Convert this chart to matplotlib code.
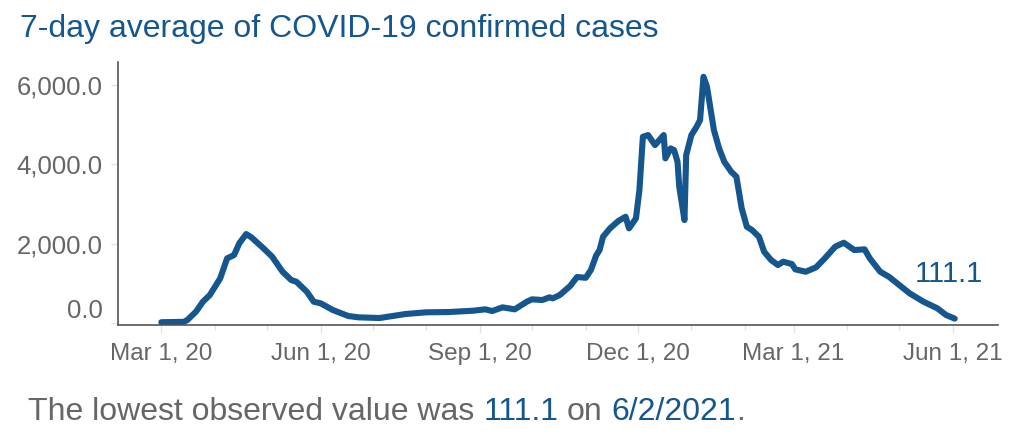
import matplotlib
matplotlib.use("Agg")
import matplotlib.pyplot as plt
import matplotlib.dates as mdates
import matplotlib.transforms as mtransforms
import pandas as pd

plt.rcParams["font.family"] = ["Liberation Sans", "DejaVu Sans"]

# 7-day average
dates = [
    "2020-03-01", "2020-03-14", "2020-03-16", "2020-03-21", "2020-03-25", "2020-03-29",
    "2020-04-04", "2020-04-08", "2020-04-12", "2020-04-15", "2020-04-19", "2020-04-22",
    "2020-04-29", "2020-05-04", "2020-05-10", "2020-05-15", "2020-05-18", "2020-05-24",
    "2020-05-28", "2020-06-01", "2020-06-08", "2020-06-12", "2020-06-17", "2020-06-23",
    "2020-07-05", "2020-07-20", "2020-08-01", "2020-08-14", "2020-08-28", "2020-09-04",
    "2020-09-08", "2020-09-14", "2020-09-21", "2020-09-28", "2020-10-01", "2020-10-07",
    "2020-10-11", "2020-10-13", "2020-10-17", "2020-10-23", "2020-10-27", "2020-11-01",
    "2020-11-04", "2020-11-07", "2020-11-09", "2020-11-11", "2020-11-15", "2020-11-20",
    "2020-11-24", "2020-11-26", "2020-11-30", "2020-12-02", "2020-12-04", "2020-12-07",
    "2020-12-11", "2020-12-16", "2020-12-17", "2020-12-20", "2020-12-22", "2020-12-24",
    "2020-12-25", "2020-12-28", "2020-12-29", "2021-01-01", "2021-01-04", "2021-01-06",
    "2021-01-08", "2021-01-10", "2021-01-14", "2021-01-17", "2021-01-20", "2021-01-24",
    "2021-01-27", "2021-01-30", "2021-02-02", "2021-02-05", "2021-02-09", "2021-02-12",
    "2021-02-16", "2021-02-20", "2021-02-23", "2021-02-28", "2021-03-02", "2021-03-08",
    "2021-03-14", "2021-03-19", "2021-03-25", "2021-03-30", "2021-04-05", "2021-04-11",
    "2021-04-14", "2021-04-20", "2021-04-25", "2021-05-01", "2021-05-07", "2021-05-15",
    "2021-05-23", "2021-05-28", "2021-06-02",
]
cases = [
    20, 30, 75, 285, 537, 705,
    1126, 1630, 1714, 2008, 2243, 2160,
    1882, 1671, 1293, 1084, 1040, 789,
    537, 496, 328, 260, 176, 143,
    126, 227, 270, 277, 310, 345,
    302, 395, 345, 537, 597, 580,
    647, 622, 705, 932, 1160, 1140,
    1336, 1700, 1840, 2175, 2386, 2578,
    2679, 2386, 2638, 3352, 4695, 4738,
    4486, 4738, 4150, 4402, 4360, 4065,
    3435, 2596, 4234, 4738, 4947, 5116,
    6207, 5955, 4864, 4402, 4065, 3813,
    3687, 2900, 2427, 2344, 2175, 1797,
    1588, 1462, 1545, 1487, 1353, 1293,
    1404, 1630, 1923, 2024, 1840, 1857,
    1630, 1293, 1167, 958, 748, 537,
    370, 202, 111.1,
]
y_ticks = [0, 2000, 4000, 6000]

BLUE = "#15568f"
GRAY = "#666666"
LIGHT = "#e3e3e3"

x = pd.to_datetime(dates)

fig = plt.figure(figsize=(10.12, 4.38), dpi=100)
ax = fig.add_axes([118 / 1012, 1 - 325 / 438, 880 / 1012, 263 / 438])

ax.plot(x, cases, color=BLUE, lw=4.4, solid_capstyle="round", solid_joinstyle="round")

ax.set_xlim(pd.Timestamp("2020-02-05"), pd.Timestamp("2021-06-27"))
ax.set_ylim(-50, 6580)

ax.xaxis.set_major_locator(mdates.MonthLocator(bymonth=[3, 6, 9, 12]))
ax.xaxis.set_minor_locator(mdates.MonthLocator())
ax.xaxis.set_major_formatter(mdates.DateFormatter("%b %-d, %y"))
ax.set_yticks(y_ticks)
ax.set_yticklabels([f"{v:,.1f}" for v in y_ticks])

for s in ["top", "right"]:
    ax.spines[s].set_visible(False)
for s in ["left", "bottom"]:
    ax.spines[s].set_color("#555555")
    ax.spines[s].set_linewidth(1.2)

ax.tick_params(axis="x", which="major", length=6, width=1, color=LIGHT,
               labelsize=17.5, labelcolor=GRAY, pad=7)
ax.tick_params(axis="x", which="minor", length=3.5, width=1, color=LIGHT)
ax.tick_params(axis="y", length=5, width=1, color=LIGHT,
               labelsize=18.5, labelcolor=GRAY, pad=6)

# the 0.0 label sits a bit above the baseline in the original
zero_label = ax.get_yticklabels()[0]
zero_label.set_transform(zero_label.get_transform() +
                         mtransforms.ScaledTranslation(0, 15 / 100, fig.dpi_scale_trans))

ax.annotate(f"{cases[-1]:.1f}", xy=(x[-1], cases[-1]), xytext=(-4, 32),
            textcoords="offset points", ha="center", va="center",
            color=BLUE, fontsize=21)

fig.text(20 / 1012, 1 - 37 / 438, "7-day average of COVID-19 confirmed cases",
         color=BLUE, fontsize=23, va="baseline", ha="left")

# footer sentence with coloured pieces
pieces = [("The lowest observed value was", GRAY, True), (f"{cases[-1]:.1f}", BLUE, True),
          ("on", GRAY, True), ("6/2/2021", BLUE, True), (".", GRAY, False)]
prev = fig.text(28 / 1012, 1 - 420 / 438, pieces[0][0], color=pieces[0][1],
                fontsize=23, va="baseline", ha="left")
gap = prev.get_fontsize() * 0.278
for txt, col, spaced in pieces[1:]:
    prev = ax.annotate(txt, xy=(1, 0), xycoords=prev, xytext=(gap if spaced else 0, 0),
                       textcoords="offset points", color=col, fontsize=23,
                       va="bottom", ha="left", annotation_clip=False)

fig.savefig("out.png", dpi=100)
